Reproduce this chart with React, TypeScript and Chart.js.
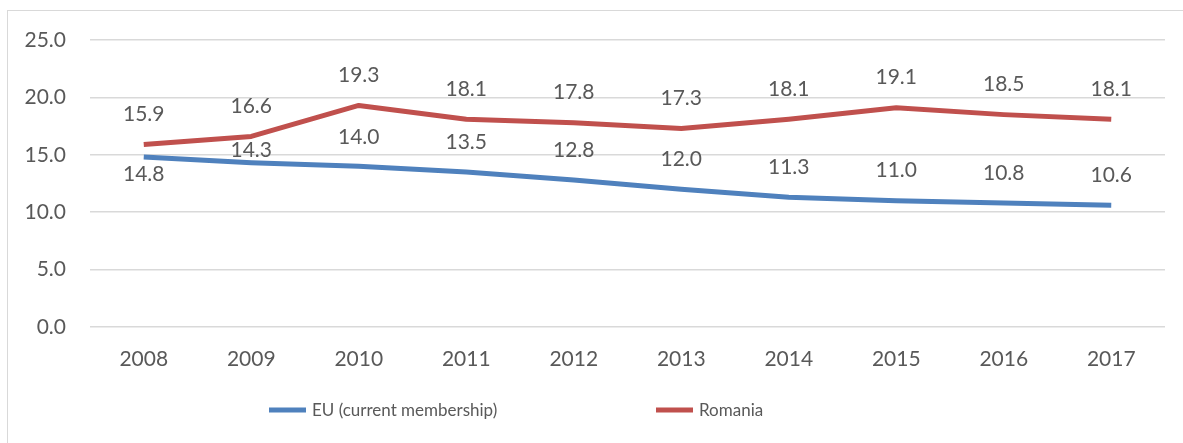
import React, { useEffect, useRef } from "react";
import { Chart, registerables } from "chart.js";

Chart.register(...registerables);

const years = ["2008", "2009", "2010", "2011", "2012", "2013", "2014", "2015", "2016", "2017"];
const euValues = [14.8, 14.3, 14.0, 13.5, 12.8, 12.0, 11.3, 11.0, 10.8, 10.6];
const romaniaValues = [15.9, 16.6, 19.3, 18.1, 17.8, 17.3, 18.1, 19.1, 18.5, 18.1];
const seriesNames = ["EU (current membership)", "Romania"];
const seriesColors = ["#4f81bd", "#c0504d"];
const yMin = 0;
const yMax = 25;
const yStep = 5;

// vertical offsets of the value labels relative to each point (style only)
const euLabelDy = [17, -13, -29, -30, -30, -30, -30, -30, -30, -30];
const romaniaLabelDy = [-30, -30, -30, -30, -30, -30, -30, -30, -30, -30];
const labelOffsets = [euLabelDy, romaniaLabelDy];

const FONT = "Lato, 'Open Sans', sans-serif";
const TEXT_COLOR = "#595959";
const GRID_COLOR = "#d9d9d9";
const AXIS_FONT_SIZE = 21;
const LEGEND_FONT_SIZE = 17;

const valueLabelsPlugin = {
  id: "valueLabels",
  afterDatasetsDraw(chart: any) {
    const ctx = chart.ctx;
    ctx.save();
    ctx.font = `${AXIS_FONT_SIZE}px ${FONT}`;
    ctx.fillStyle = TEXT_COLOR;
    ctx.textAlign = "center";
    ctx.textBaseline = "middle";
    chart.data.datasets.forEach((ds: any, di: number) => {
      const meta = chart.getDatasetMeta(di);
      meta.data.forEach((pt: any, i: number) => {
        const v = ds.data[i] as number;
        ctx.fillText(v.toFixed(1), pt.x, pt.y + labelOffsets[di][i]);
      });
    });
    ctx.restore();
  },
};

const legendPlugin = {
  id: "excelLegend",
  afterDraw(chart: any) {
    const ctx = chart.ctx;
    const y = 399;
    const starts = [261, 648];
    ctx.save();
    ctx.font = `${LEGEND_FONT_SIZE}px ${FONT}`;
    ctx.textBaseline = "middle";
    ctx.textAlign = "left";
    chart.data.datasets.forEach((ds: any, i: number) => {
      const x = starts[i];
      ctx.fillStyle = ds.borderColor;
      ctx.fillRect(x, y - 2.5, 37, 5);
      ctx.fillStyle = TEXT_COLOR;
      ctx.fillText(ds.label, x + 43, y + 1);
    });
    ctx.restore();
  },
};

export default function App() {
  const canvasRef = useRef<HTMLCanvasElement | null>(null);

  useEffect(() => {
    if (!canvasRef.current) return;
    const chart = new Chart(canvasRef.current, {
      type: "line",
      data: {
        labels: years,
        datasets: [
          {
            label: seriesNames[0],
            data: euValues,
            borderColor: seriesColors[0],
            backgroundColor: seriesColors[0],
            borderWidth: 5,
            pointRadius: 0,
            tension: 0,
            borderCapStyle: "butt",
            borderJoinStyle: "round",
          },
          {
            label: seriesNames[1],
            data: romaniaValues,
            borderColor: seriesColors[1],
            backgroundColor: seriesColors[1],
            borderWidth: 5,
            pointRadius: 0,
            tension: 0,
            borderCapStyle: "butt",
            borderJoinStyle: "round",
          },
        ],
      },
      options: {
        responsive: false,
        animation: false,
        layout: { padding: { left: 0, right: 18, top: 29, bottom: 56 } },
        plugins: {
          legend: { display: false },
          tooltip: { enabled: false },
        },
        scales: {
          x: {
            offset: true,
            grid: { display: false, drawTicks: false },
            border: { display: false },
            ticks: {
              color: TEXT_COLOR,
              font: { family: FONT, size: AXIS_FONT_SIZE },
              padding: 20,
              maxRotation: 0,
            },
            afterFit: (scale: any) => {
              scale.height = 60;
              scale.paddingLeft = 0;
              scale.paddingRight = 0;
            },
          },
          y: {
            min: yMin,
            max: yMax,
            grid: { color: GRID_COLOR, lineWidth: 1.5, drawTicks: false },
            border: { display: false },
            ticks: {
              stepSize: yStep,
              color: TEXT_COLOR,
              font: { family: FONT, size: AXIS_FONT_SIZE },
              padding: 24,
              callback: (v: any) => Number(v).toFixed(1),
            },
            afterFit: (scale: any) => {
              scale.width = 82;
              scale.paddingTop = 0;
              scale.paddingBottom = 0;
            },
          },
        },
      },
      plugins: [valueLabelsPlugin, legendPlugin],
    });
    return () => chart.destroy();
  }, []);

  return (
    <div
      style={{
        position: "fixed",
        left: 7,
        top: 10,
        width: 1176,
        height: 433,
        borderLeft: `1px solid ${GRID_COLOR}`,
        borderTop: `1px solid ${GRID_COLOR}`,
        boxSizing: "border-box",
        background: "#fff",
      }}
    >
      <canvas ref={canvasRef} width={1175} height={432} style={{ display: "block" }} />
    </div>
  );
}
